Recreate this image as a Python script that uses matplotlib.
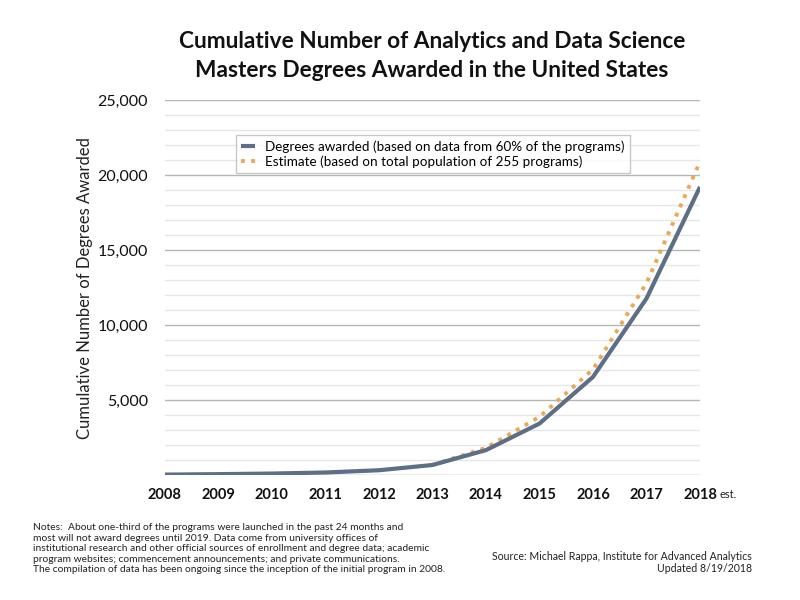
import matplotlib
matplotlib.use("Agg")
import matplotlib.pyplot as plt
from matplotlib.ticker import MultipleLocator, FuncFormatter

years = [2008, 2009, 2010, 2011, 2012, 2013, 2014, 2015, 2016, 2017, 2018]
awarded = [40, 70, 110, 180, 330, 680, 1670, 3440, 6550, 11780, 19220]
est_years = [2013, 2014, 2015, 2016, 2017, 2018]
estimate = [680, 1820, 3890, 7050, 12800, 20900]
ytick_vals = [5000, 10000, 15000, 20000, 25000]

plt.rcParams['font.family'] = ['Lato', 'DejaVu Sans']

fig = plt.figure(figsize=(8, 6), dpi=100)
ax = fig.add_axes([0.206, 0.208, 0.669, 0.625])

blue = '#5d6e87'
orange = '#eaa95a'

ax.plot(years, awarded, color=blue, lw=3, solid_capstyle='butt',
        label='Degrees awarded (based on data from 60% of the programs)', zorder=3)
ax.plot(est_years, estimate, color=orange, lw=2.8, ls=(0, (1, 1.6)),
        label='Estimate (based on total population of 255 programs)', zorder=2)

ax.set_xlim(2008, 2018)
ax.set_ylim(0, 25000)
ax.set_xticks(years)
ax.set_yticks(ytick_vals)
ax.yaxis.set_major_formatter(FuncFormatter(lambda v, p: f'{int(v):,}'))
ax.yaxis.set_minor_locator(MultipleLocator(1000))
ax.grid(axis='y', which='major', color='#b5b5b5', lw=1.0)
ax.grid(axis='y', which='minor', color='#e6e6e6', lw=1.0)
ax.axhline(0, color='#b5b5b5', lw=1.0, zorder=1)
for s in ax.spines.values():
    s.set_visible(False)
ax.tick_params(axis='both', which='both', length=0)
ax.tick_params(axis='x', labelsize=10.5, pad=9, labelcolor='#111111')
ax.tick_params(axis='y', labelsize=11.5, pad=12, labelcolor='#111111')
for lab in ax.get_xticklabels():
    lab.set_fontweight('bold')
ax.set_axisbelow(True)

ax.set_ylabel('Cumulative Number of Degrees Awarded', fontsize=12, labelpad=10, color='#222222')
ax.yaxis.set_label_coords(-0.134, 0.5)

leg = ax.legend(loc='upper left', bbox_to_anchor=(0.12, 0.925), fontsize=9.7,
                frameon=True, fancybox=False, edgecolor='#bbbbbb',
                handlelength=1.0, handletextpad=0.8, borderpad=0.4,
                labelspacing=0.15)
leg.get_frame().set_linewidth(1.0)

fig.text(0.54, 0.93, 'Cumulative Number of Analytics and Data Science',
         ha='center', va='center', fontsize=16.3, fontweight='bold', color='#111111')
fig.text(0.54, 0.882, 'Masters Degrees Awarded in the United States',
         ha='center', va='center', fontsize=16.3, fontweight='bold', color='#111111')

fig.text(0.9, 0.175, 'est.', fontsize=8, ha='left', va='center', color='#222222')

notes = ("Notes:  About one-third of the programs were launched in the past 24 months and\n"
         "most will not award degrees until 2019. Data come from university offices of\n"
         "institutional research and other official sources of enrollment and degree data; academic\n"
         "program websites; commencement announcements; and private communications.\n"
         "The compilation of data has been ongoing since the inception of the initial program in 2008.")
fig.text(0.041, 0.128, notes, fontsize=7.4, ha='left', va='top', linespacing=1.22, color='#222222')

fig.text(0.94, 0.063, 'Source: Michael Rappa, Institute for Advanced Analytics\nUpdated 8/19/2018',
         fontsize=7.6, ha='right', va='center', linespacing=1.15, color='#222222')

fig.savefig('out.png', dpi=100, facecolor='white')
